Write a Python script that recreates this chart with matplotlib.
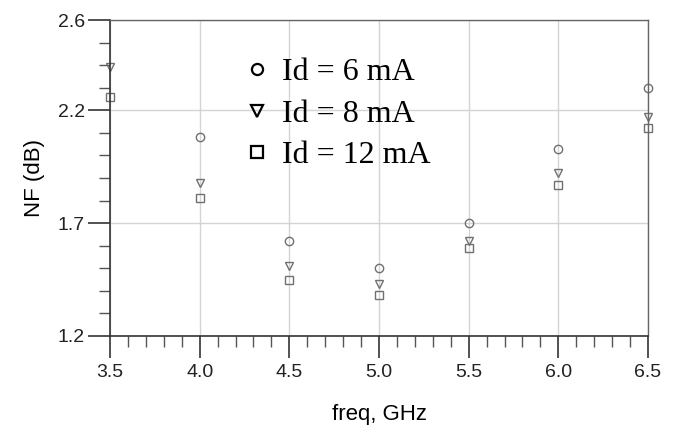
import numpy as np
import matplotlib
matplotlib.use("Agg")
import matplotlib.pyplot as plt
from matplotlib.lines import Line2D
from matplotlib.ticker import MultipleLocator, FixedLocator

# ----- data -----
freq = [3.5, 4.0, 4.5, 5.0, 5.5, 6.0, 6.5]
nf_6ma = [np.nan, 2.08, 1.62, 1.50, 1.70, 2.03, 2.30]   # 3.5 GHz point is off the top
nf_8ma = [2.39, 1.88, 1.51, 1.43, 1.62, 1.92, 2.17]
nf_12ma = [2.26, 1.81, 1.45, 1.38, 1.59, 1.87, 2.12]
labels = ["Id = 6 mA", "Id = 8 mA", "Id = 12 mA"]
y_major = [1.2, 1.7, 2.2, 2.6]

plt.rcParams['font.family'] = ['Liberation Sans', 'DejaVu Sans']

fig = plt.figure(figsize=(6.73, 4.29), dpi=100)
ax = fig.add_axes([110 / 673, 93 / 429, 538 / 673, 316 / 429])

mk = dict(linestyle='none', markerfacecolor='none', markeredgecolor='#707070',
          markeredgewidth=1.0, markersize=6, clip_on=False)
ax.plot(freq, nf_6ma, marker='o', **mk)
ax.plot(freq, nf_8ma, marker='v', **mk)
ax.plot(freq, nf_12ma, marker='s', **mk)

ax.set_xlim(3.5, 6.5)
ax.set_ylim(1.2, 2.6)

ax.xaxis.set_major_locator(MultipleLocator(0.5))
ax.xaxis.set_minor_locator(MultipleLocator(0.1))
ax.yaxis.set_major_locator(FixedLocator(y_major))
ax.yaxis.set_minor_locator(MultipleLocator(0.1))
ax.set_xticklabels(["%.1f" % v for v in ax.get_xticks()])

ax.tick_params(which='major', direction='out', length=16, width=1.2,
               color='#333333', labelsize=14, labelcolor='#222222', pad=2)
ax.tick_params(which='minor', direction='out', length=8, width=1.0, color='#555555')
ax.tick_params(axis='x', which='major', pad=4)

ax.grid(True, which='major', color='#d4d4d4', linewidth=1.0)
ax.set_axisbelow(True)

for side in ['left', 'bottom']:
    ax.spines[side].set_color('#333333')
    ax.spines[side].set_linewidth(1.2)
for side in ['top', 'right']:
    ax.spines[side].set_color('#666666')
    ax.spines[side].set_linewidth(1.0)

ax.set_xlabel("freq, GHz", fontsize=16, labelpad=17)
ax.set_ylabel("NF (dB)", fontsize=16, labelpad=9)

handles = [Line2D([], [], linestyle='none', marker=m, markerfacecolor='none',
                  markeredgecolor='black', markeredgewidth=1.6, markersize=8)
           for m in ['o', 'v', 's']]
leg = ax.legend(handles, labels, loc='upper left', bbox_to_anchor=(0.225, 0.92),
                frameon=False, handlelength=0.8, handletextpad=0.4,
                labelspacing=0.38, borderaxespad=0,
                prop={'family': 'Liberation Serif', 'size': 23})

fig.savefig("out.png", dpi=100)
